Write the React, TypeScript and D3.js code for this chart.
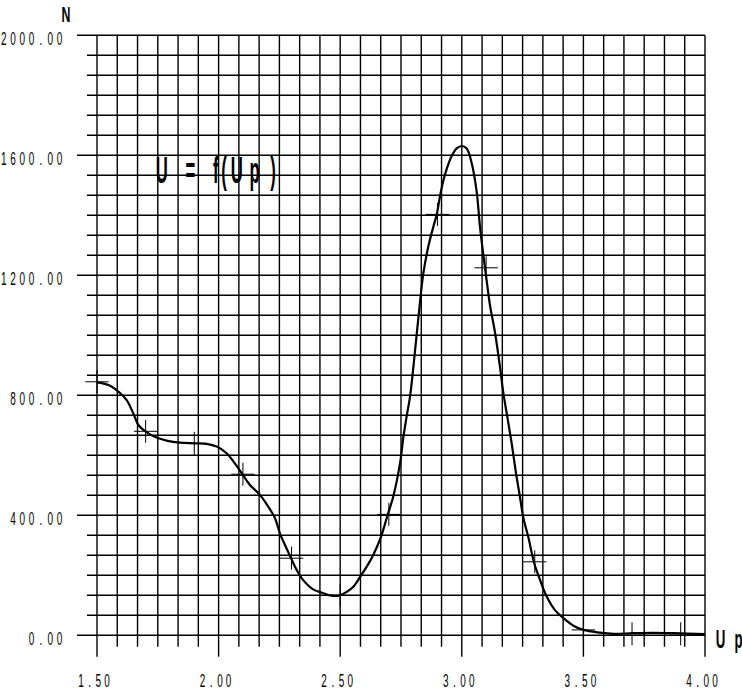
import React from "react";
import * as d3 from "d3";

// Curve data: Up (x) vs N (y)
const curveUp = [
  1.5, 1.547, 1.588, 1.622, 1.649, 1.67, 1.7, 1.745, 1.786, 1.841, 1.9, 1.951, 1.992,
  2.033, 2.067, 2.098, 2.129, 2.17, 2.204, 2.232, 2.252, 2.273, 2.298, 2.321, 2.348,
  2.389, 2.425, 2.458, 2.499, 2.527, 2.554, 2.582, 2.609, 2.636, 2.668, 2.695, 2.718,
  2.746, 2.76, 2.773, 2.787, 2.801, 2.815, 2.828, 2.842, 2.862, 2.883, 2.897, 2.91,
  2.924, 2.938, 2.958, 2.979, 3.0, 3.02, 3.041, 3.061, 3.075, 3.089, 3.102, 3.115,
  3.137, 3.157, 3.171, 3.187, 3.205, 3.223, 3.239, 3.253, 3.273, 3.298, 3.322, 3.349,
  3.383, 3.418, 3.459, 3.5, 3.568, 3.623, 3.705, 3.787, 3.87, 4.0,
];
const curveN = [
  843, 834, 812, 784, 740, 701, 679, 659, 649, 642, 640, 638, 629,
  607, 573, 537, 501, 468, 429, 390, 340, 301, 257, 218, 184,
  153, 142, 133, 133, 145, 162, 195, 229, 268, 329, 401, 462,
  573, 662, 729, 795, 895, 1007, 1110, 1207, 1295, 1362, 1403, 1462,
  1515, 1555, 1597, 1623, 1631, 1623, 1573, 1480, 1360, 1265, 1184, 1105,
  1007, 895, 807, 729, 640, 540, 462, 392, 329, 240, 184, 129,
  84, 57, 32, 18, 9, 5, 7, 8, 7, 4,
];

// Measured points (cross markers)
const markUp = [1.5, 1.7, 1.9, 2.1, 2.3, 2.5, 2.7, 2.9, 3.1, 3.3, 3.5, 3.7, 3.9];
const markN = [845, 680, 640, 537, 257, 133, 403, 1403, 1225, 245, 18, 5, 5];

const xTickValues = [1.5, 2.0, 2.5, 3.0, 3.5, 4.0];
const xTickLabels = ["1.50", "2.00", "2.50", "3.00", "3.50", "4.00"];
const yTickValues = [0, 400, 800, 1200, 1600, 2000];
const yTickLabels = ["0.00", "400.00", "800.00", "1200.00", "1600.00", "2000.00"];

const titleText = "U = f(U p)";
const xAxisTitle = "U p";
const yAxisTitle = "N";

const FONT = "'Liberation Sans', Arial, sans-serif";

function SpacedText(props: {
  text: string;
  centers: number[];
  y: number;
  size: number;
  sx: number;
  weight?: string | number;
}) {
  const { text, centers, y, size, sx, weight } = props;
  return (
    <text
      transform={`scale(${sx},1)`}
      x={centers.map((c) => (c / sx).toFixed(2)).join(" ")}
      y={y}
      textAnchor="middle"
      fontFamily={FONT}
      fontSize={size}
      fontWeight={weight ?? "normal"}
      fill="#000"
    >
      {text}
    </text>
  );
}

export default function App() {
  const W = 742;
  const H = 692;
  const x = d3.scaleLinear().domain([1.5, 4.0]).range([97, 705]);
  const y = d3.scaleLinear().domain([0, 2000]).range([635.3, 35.3]);

  const nDiv = 30;
  const vLines = d3.range(nDiv + 1).map((i) => ({
    v: 1.5 + (i * 2.5) / nDiv,
    major: i % 6 === 0,
  }));
  const hLines = d3.range(nDiv + 1).map((j) => ({
    v: (j * 2000) / nDiv,
    major: j % 6 === 0,
  }));

  const pts: [number, number][] = curveUp.map((u, i) => [u, curveN[i]]);
  const line = d3
    .line<[number, number]>()
    .x((d) => x(d[0]))
    .y((d) => y(d[1]))
    .curve(d3.curveCatmullRom.alpha(0.5));

  const pitchY = 9.3;
  const pitchX = 8.7;

  return (
    <svg
      width={W}
      height={H}
      viewBox={`0 0 ${W} ${H}`}
      style={{ position: "absolute", left: 0, top: 0, display: "block", background: "#fff" }}
    >
      <rect x={0} y={0} width={W} height={H} fill="#fff" />
      <g stroke="#000" strokeWidth={1.4}>
        {vLines.map((l, i) => (
          <line
            key={"v" + i}
            x1={x(l.v)}
            x2={x(l.v)}
            y1={y(2000)}
            y2={l.major ? y(0) + 21.5 : y(0) + 11.5}
          />
        ))}
        {hLines.map((l, i) => (
          <line
            key={"h" + i}
            x1={l.major ? 77 : 87}
            x2={x(4.0)}
            y1={y(l.v)}
            y2={y(l.v)}
          />
        ))}
      </g>

      <path d={line(pts) || ""} fill="none" stroke="#000" strokeWidth={2.2} strokeLinejoin="round" />

      <g stroke="#000" strokeWidth={1}>
        {markUp.map((u, i) => (
          <g key={"m" + i}>
            <line x1={x(u) - 11.7} x2={x(u) + 11.7} y1={y(markN[i])} y2={y(markN[i])} />
            <line x1={x(u)} x2={x(u)} y1={y(markN[i]) - 11.5} y2={y(markN[i]) + 11.5} />
          </g>
        ))}
      </g>

      {yTickValues.map((v, i) => {
        const s = yTickLabels[i];
        const n = s.length;
        const centers = d3.range(n).map((k) => 59.5 - (n - 1 - k) * pitchY);
        return (
          <SpacedText key={"yl" + i} text={s} centers={centers} y={y(v) + 9.5} size={17.5} sx={0.57} />
        );
      })}

      {xTickValues.map((v, i) => {
        const s = xTickLabels[i];
        const n = s.length;
        const mid = x(v) - 3;
        const centers = d3.range(n).map((k) => mid + (k - (n - 1) / 2) * pitchX);
        return <SpacedText key={"xl" + i} text={s} centers={centers} y={687} size={17.5} sx={0.57} />;
      })}

      <SpacedText text={yAxisTitle} centers={[66]} y={22.5} size={22.5} sx={0.55} weight="bold" />
      <SpacedText text={xAxisTitle} centers={[720.5, 729, 738.5]} y={648} size={26.5} sx={0.5} weight="bold" />
      <SpacedText
        text={titleText}
        centers={[161.7, 176, 190.5, 203, 215.8, 224, 236.7, 245, 254.5, 273]}
        y={183.3}
        size={36.3}
        sx={0.46}
        weight="bold"
      />
    </svg>
  );
}
